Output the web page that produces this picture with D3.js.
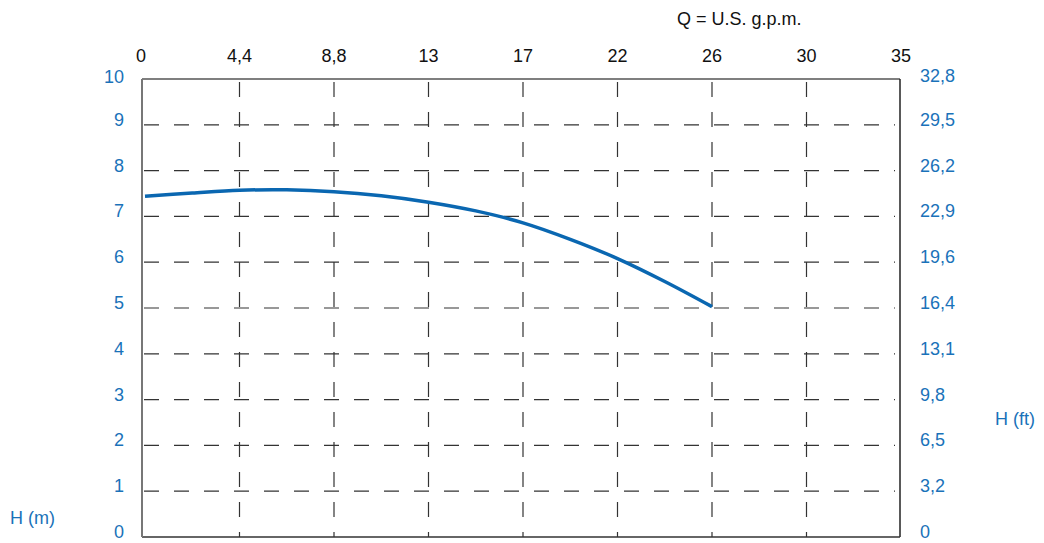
<!DOCTYPE html>
<html>
<head>
<meta charset="utf-8">
<script src="https://cdnjs.cloudflare.com/ajax/libs/d3/7.8.5/d3.min.js"></script>
<style>
  html, body { margin: 0; padding: 0; background: #fff; }
  svg { display: block; font-family: "Liberation Sans", Arial, sans-serif; }
  .blue { fill: #1a72b9; }
</style>
</head>
<body>
<svg id="chart" width="1044" height="543"></svg>
<script>
// x axis: equal steps, labelled in U.S. g.p.m.
var qLabels = ['0', '4,4', '8,8', '13', '17', '22', '26', '30', '35'];
// left axis: H in metres, right axis: same lines in feet
var hMetres = [0, 1, 2, 3, 4, 5, 6, 7, 8, 9, 10];
var hFeet = ['0', '3,2', '6,5', '9,8', '13,1', '16,4', '19,6', '22,9', '26,2', '29,5', '32,8'];
// pump curve (x in axis steps, y in metres)
var curveQ = [0, 0.5, 1, 1.5, 2, 2.5, 3, 3.5, 4, 4.5, 5, 5.5, 6];
var curveH = [7.44, 7.51, 7.57, 7.58, 7.54, 7.45, 7.31, 7.12, 6.86, 6.50, 6.08, 5.58, 5.03];

(function() {
  var svg = d3.select('#chart');
  // plot box edges (window.top is taken, hence the p- names)
  var pLeft = 142, pRight = 900, pTop = 79, pBottom = 537;

  var x = d3.scaleLinear().domain([0, qLabels.length - 1]).range([pLeft + 3, pRight + 1]);
  var y = d3.scaleLinear().domain([0, 10]).range([pBottom, pTop]);

  // dashed grid
  svg.append('g').selectAll('line')
    .data(d3.range(1, qLabels.length - 1))
    .enter().append('line')
    .attr('x1', function(d) { return x(d); })
    .attr('x2', function(d) { return x(d); })
    .attr('y1', pTop).attr('y2', pBottom)
    .attr('stroke', '#333').attr('stroke-width', 1.2)
    .attr('stroke-dasharray', '15,15').attr('stroke-dashoffset', -3);

  svg.append('g').selectAll('line')
    .data(hMetres.slice(1, -1))
    .enter().append('line')
    .attr('x1', pLeft).attr('x2', pRight - 5)
    .attr('y1', function(d) { return y(d); })
    .attr('y2', function(d) { return y(d); })
    .attr('stroke', '#333').attr('stroke-width', 1.2)
    .attr('stroke-dasharray', '15,15').attr('stroke-dashoffset', -2);

  // frame
  svg.append('line').attr('x1', pLeft).attr('x2', pRight).attr('y1', pTop).attr('y2', pTop)
    .attr('stroke', '#555').attr('stroke-width', 1.5);
  svg.append('line').attr('x1', pRight).attr('x2', pRight).attr('y1', pTop).attr('y2', pBottom)
    .attr('stroke', '#222').attr('stroke-width', 1.5);
  svg.append('line').attr('x1', pLeft).attr('x2', pRight).attr('y1', pBottom).attr('y2', pBottom)
    .attr('stroke', '#333').attr('stroke-width', 1.5);
  svg.append('line').attr('x1', pLeft).attr('x2', pLeft).attr('y1', pTop).attr('y2', pBottom)
    .attr('stroke', '#777').attr('stroke-width', 2);

  // pump curve
  var line = d3.line()
    .x(function(d) { return x(d[0]); })
    .y(function(d) { return y(d[1]); })
    .curve(d3.curveCatmullRom);

  svg.append('path')
    .datum(d3.zip(curveQ, curveH))
    .attr('d', line)
    .attr('fill', 'none')
    .attr('stroke', '#0a67b1')
    .attr('stroke-width', 3.5);

  // top labels ("0" sits on the frame edge)
  svg.append('g').selectAll('text')
    .data(qLabels)
    .enter().append('text')
    .attr('x', function(d, i) { return i === 0 ? pLeft - 1 : x(i); })
    .attr('y', 62)
    .attr('text-anchor', 'middle')
    .attr('font-size', 18)
    .attr('fill', '#111')
    .text(function(d) { return d; });

  svg.append('text')
    .attr('x', 677).attr('y', 25)
    .attr('font-size', 18).attr('fill', '#111')
    .text('Q = U.S. g.p.m.');

  // left labels (m)
  svg.append('g').selectAll('text')
    .data(hMetres)
    .enter().append('text')
    .attr('class', 'blue')
    .attr('x', 124)
    .attr('y', function(d) { return y(d) + (d === 10 ? 4 : 1); })
    .attr('text-anchor', 'end')
    .attr('font-size', 18)
    .text(function(d) { return d; });

  // right labels (ft)
  svg.append('g').selectAll('text')
    .data(hFeet)
    .enter().append('text')
    .attr('class', 'blue')
    .attr('x', 920)
    .attr('y', function(d, i) { return y(hMetres[i]) + (i === 10 ? 3 : 1); })
    .attr('font-size', 18)
    .text(function(d) { return d; });

  svg.append('text').attr('class', 'blue')
    .attr('x', 995).attr('y', 425).attr('font-size', 18).text('H (ft)');
  svg.append('text').attr('class', 'blue')
    .attr('x', 10).attr('y', 524).attr('font-size', 18).text('H (m)');
})();
</script>
</body>
</html>
